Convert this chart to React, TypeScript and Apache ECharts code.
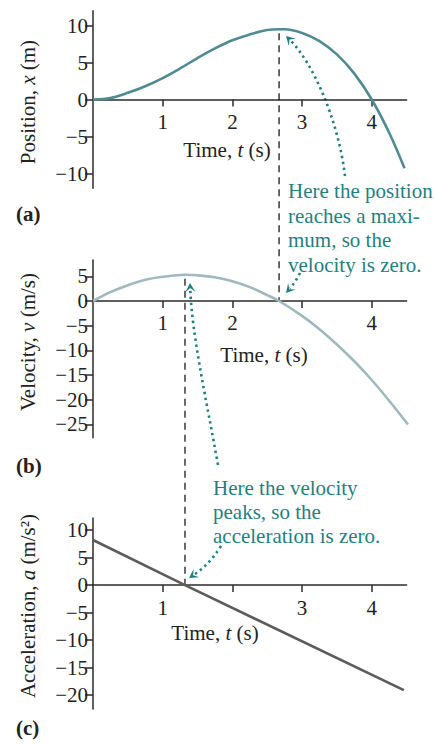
import React, { useEffect, useRef } from "react";
import * as echarts from "echarts";

// Position x(t) in metres
const TIME_POS = [0, 0.25, 0.5, 0.75, 1, 1.25, 1.5, 1.75, 2, 2.25, 2.5, 2.67, 2.75, 3, 3.25, 3.5, 3.75, 4, 4.25, 4.47];
const POSITION = [0, 0.2, 0.9, 1.8, 2.9, 4.2, 5.6, 6.9, 8.0, 8.8, 9.4, 9.5, 9.5, 9.0, 7.9, 6.1, 3.5, 0, -4.5, -9.3];

// Velocity v(t) in m/s
const TIME_VEL = [0, 0.25, 0.5, 0.75, 1, 1.33, 1.5, 1.75, 2, 2.25, 2.5, 2.67, 3, 3.25, 3.5, 3.75, 4, 4.25, 4.52];
const VELOCITY = [0, 1.8, 3.2, 4.3, 4.9, 5.3, 5.2, 4.8, 4.0, 2.8, 1.2, 0, -3.0, -5.7, -8.8, -12.2, -16.0, -20.2, -25.0];

// Acceleration a(t) in m/s²
const TIME_ACC = [0, 1.32, 4.46];
const ACCELERATION = [8.2, 0, -19.1];

// Axis ranges, ticks and labels
const POS_RANGE = [-12, 12];
const VEL_RANGE = [-27.7, 8.3];
const ACC_RANGE = [-22.5, 12.2];
const POS_TICKS = [-10, -5, 0, 5, 10];
const VEL_TICKS = [-25, -20, -15, -10, -5, 0, 5];
const ACC_TICKS = [-20, -15, -10, -5, 0, 5, 10];
const TIME_TICKS = [1, 2, 3, 4];
const POS_TIME_LABELS = [1, 2, 3, 4];
const VEL_TIME_LABELS = [1, 2, 4];
const ACC_TIME_LABELS = [1, 3, 4];

// Turning points joined by the dashed guides
const POS_PEAK = [2.67, 9.5];
const VEL_ZERO = [2.67, 0];
const VEL_PEAK = [1.32, 5.3];
const ACC_ZERO = [1.32, 0];

const NOTE_POSITION = ["Here the position", "reaches a maxi-", "mum, so the", "velocity is zero."];
const NOTE_VELOCITY = ["Here the velocity", "peaks, so the", "acceleration is zero."];

const SERIF = "'Liberation Serif', 'Times New Roman', serif";
const INK = "#2b2b2b";
const TEAL = "#1f7f82";
const FONT = 21;

const GRIDS = [
  { left: 93, top: 10.7, width: 313.6, height: 177.6 },
  { left: 93, top: 260, width: 313.6, height: 177.8 },
  { left: 93, top: 518, width: 313.6, height: 190.9 },
];
const RANGES = [POS_RANGE, VEL_RANGE, ACC_RANGE];

const minus = (v: number) => (v < 0 ? "\u2212" + Math.abs(v) : String(v));

function xAxisFor(gridIndex: number, labels: number[]) {
  // the time axis sits on the zero line of its panel
  const [lo, hi] = RANGES[gridIndex];
  const lift = ((0 - lo) / (hi - lo)) * GRIDS[gridIndex].height;
  return {
    type: "value",
    gridIndex,
    position: "bottom",
    offset: -lift,
    min: 0,
    max: 4.5,
    axisLine: { show: true, onZero: false, lineStyle: { color: INK, width: 1.5 } },
    axisTick: { show: true, customValues: TIME_TICKS, length: 7, lineStyle: { color: INK, width: 1.5 } },
    axisLabel: { customValues: labels, margin: 12, fontSize: FONT, fontFamily: SERIF, color: "#222" },
    splitLine: { show: false },
  };
}

function yAxisFor(gridIndex: number, ticks: number[]) {
  const [lo, hi] = RANGES[gridIndex];
  return {
    type: "value",
    gridIndex,
    min: lo,
    max: hi,
    axisLine: { show: true, onZero: false, lineStyle: { color: INK, width: 1.5 } },
    axisTick: { show: true, customValues: ticks, length: 8, lineStyle: { color: INK, width: 1.5 } },
    axisLabel: { customValues: ticks, margin: 5, fontSize: FONT, fontFamily: SERIF, color: "#222", formatter: minus },
    splitLine: { show: false },
  };
}

const pairs = (xs: number[], ys: number[]) => xs.map((x, i) => [x, ys[i]]);

function arrowHead(tip: number[], from: number[], len = 9, half = 5) {
  const dx = tip[0] - from[0];
  const dy = tip[1] - from[1];
  const d = Math.hypot(dx, dy) || 1;
  const ux = dx / d;
  const uy = dy / d;
  const nx = -uy;
  const ny = ux;
  const bx = tip[0] - ux * len;
  const by = tip[1] - uy * len;
  const mx = tip[0] - ux * len * 0.55;
  const my = tip[1] - uy * len * 0.55;
  return [
    tip,
    [bx + nx * half, by + ny * half],
    [mx, my],
    [bx - nx * half, by - ny * half],
  ];
}

function dottedArrow(start: number[], cp1: number[], cp2: number[], tip: number[]) {
  // shaft stops just short of the head
  const dx = tip[0] - cp2[0];
  const dy = tip[1] - cp2[1];
  const d = Math.hypot(dx, dy) || 1;
  const end = [tip[0] - (dx / d) * 6, tip[1] - (dy / d) * 6];
  return [
    {
      type: "bezierCurve",
      shape: { x1: start[0], y1: start[1], cpx1: cp1[0], cpy1: cp1[1], cpx2: cp2[0], cpy2: cp2[1], x2: end[0], y2: end[1] },
      style: { stroke: TEAL, lineWidth: 2.6, lineDash: [2.4, 3.6], fill: null },
      silent: true,
    },
    {
      type: "polygon",
      shape: { points: arrowHead(tip, cp2) },
      style: { fill: TEAL },
      silent: true,
    },
  ];
}

function noteLines(lines: string[], x: number, y0: number, step: number) {
  return lines.map((line, i) => ({
    type: "text",
    x,
    y: y0 + i * step,
    style: { text: line, font: `${FONT}px ${SERIF}`, fill: TEAL, align: "left", verticalAlign: "middle" },
    silent: true,
  }));
}

function richText(text: string, x: number, y: number, rotation = 0, size = FONT) {
  return {
    type: "text",
    x,
    y,
    rotation,
    style: {
      text,
      fontFamily: SERIF,
      fontSize: size,
      fill: "#222",
      align: "center",
      verticalAlign: "middle",
      rich: {
        i: { fontStyle: "italic", fontFamily: SERIF, fontSize: size, fill: "#222" },
      },
    },
    silent: true,
  };
}

function panelTag(text: string, x: number, y: number) {
  return {
    type: "text",
    x,
    y,
    style: { text, font: `bold ${FONT}px ${SERIF}`, fill: "#222", align: "left", verticalAlign: "middle" },
    silent: true,
  };
}

export default function App() {
  const ref = useRef<HTMLDivElement>(null);

  useEffect(() => {
    if (!ref.current) return;
    const chart = echarts.init(ref.current, undefined, { renderer: "svg" });

    chart.setOption({
      animation: false,
      backgroundColor: "#ffffff",
      grid: GRIDS,
      xAxis: [xAxisFor(0, POS_TIME_LABELS), xAxisFor(1, VEL_TIME_LABELS), xAxisFor(2, ACC_TIME_LABELS)],
      yAxis: [yAxisFor(0, POS_TICKS), yAxisFor(1, VEL_TICKS), yAxisFor(2, ACC_TICKS)],
      series: [
        {
          type: "line",
          xAxisIndex: 0,
          yAxisIndex: 0,
          data: pairs(TIME_POS, POSITION),
          smooth: 0.35,
          showSymbol: false,
          lineStyle: { color: "#4f8c92", width: 2.6 },
          z: 3,
        },
        {
          type: "line",
          xAxisIndex: 1,
          yAxisIndex: 1,
          data: pairs(TIME_VEL, VELOCITY),
          smooth: 0.35,
          showSymbol: false,
          lineStyle: { color: "#9fb9bf", width: 2.6 },
          z: 3,
        },
        {
          type: "line",
          xAxisIndex: 2,
          yAxisIndex: 2,
          data: pairs(TIME_ACC, ACCELERATION),
          showSymbol: false,
          lineStyle: { color: "#5c5c5c", width: 2.6 },
          z: 3,
        },
      ],
    });

    const posPeak = chart.convertToPixel({ gridIndex: 0 }, POS_PEAK) as number[];
    const velZero = chart.convertToPixel({ gridIndex: 1 }, VEL_ZERO) as number[];
    const velPeak = chart.convertToPixel({ gridIndex: 1 }, VEL_PEAK) as number[];
    const accZero = chart.convertToPixel({ gridIndex: 2 }, ACC_ZERO) as number[];

    const dash = { stroke: "#1a1a1a", lineWidth: 1.3, lineDash: [7, 5] };

    chart.setOption({
      graphic: [
        {
          type: "line",
          shape: { x1: posPeak[0], y1: posPeak[1] + 4, x2: velZero[0], y2: velZero[1] - 1 },
          style: dash,
          silent: true,
          z: 1,
        },
        {
          type: "line",
          shape: { x1: velPeak[0], y1: velPeak[1] + 4, x2: accZero[0], y2: accZero[1] },
          style: dash,
          silent: true,
          z: 1,
        },
        richText("Time, {i|t} (s)", 227, 150),
        richText("Time, {i|t} (s)", 264, 355),
        richText("Time, {i|t} (s)", 215, 633),
        richText("Position, {i|x} (m)", 28, 102, Math.PI / 2),
        richText("Velocity, {i|v} (m/s)", 28, 342, Math.PI / 2),
        richText("Acceleration, {i|a} (m/s²)", 28, 606, Math.PI / 2),
        panelTag("(a)", 16, 214),
        panelTag("(b)", 16, 466),
        panelTag("(c)", 16, 728),
        ...noteLines(NOTE_POSITION, 288, 191, 24.6),
        ...noteLines(NOTE_VELOCITY, 213, 488, 24),
        ...dottedArrow([345, 176], [338, 118], [312, 62], [286, 36]),
        ...dottedArrow([300, 273], [297, 279], [293, 285], [286, 293]),
        ...dottedArrow([218, 465], [206, 398], [192, 335], [190, 283]),
        ...dottedArrow([221, 546], [212, 560], [204, 568], [189, 578]),
      ],
    });

    return () => chart.dispose();
  }, []);

  return (
    <div
      ref={ref}
      style={{ position: "absolute", left: 0, top: 0, width: 435, height: 745, background: "#fff" }}
    />
  );
}
